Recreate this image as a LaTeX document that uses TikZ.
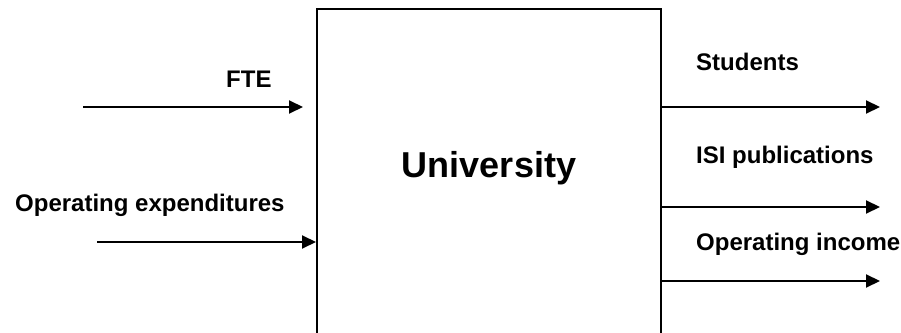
\documentclass[tikz,border=0pt]{standalone}
\usepackage{fontspec}
\setmainfont{Liberation Sans}
\usepackage{xcolor}
\usetikzlibrary{calc,arrows.meta}
\tikzset{
  flow/.style={draw=black, line width=2pt, -{Triangle[length=14pt,width=13pt]}},
  boxnode/.style={draw=black, line width=2pt, minimum width=344pt, minimum height=333pt, inner sep=0pt},
  lab/.style={font=\fontsize{24}{28}\selectfont\bfseries, inner sep=0pt, anchor=base west},
  biglab/.style={font=\fontsize{36}{42}\selectfont\bfseries, inner sep=0pt, anchor=base},
}
\begin{document}
\begin{tikzpicture}[x=1pt,y=1pt]
  \useasboundingbox (0,0) rectangle (901,332);
  \clip (0,0) rectangle (901,332);

  \node[boxnode] (uni) at (489,156.5) {};
  \node[biglab] (unilab) at (489,154) {University};

  % inputs
  \coordinate (fteA) at (83,225);
  \coordinate (fteB) at (303,225);
  \coordinate (expA) at (97,90);
  \draw[flow] (fteA) -- (fteB);
  \draw[flow] (expA) -- (uni.west |- expA);
  \node[lab] (fte) at (226,244) {FTE};
  \node[lab] (exp) at (15,120) {Operating expenditures};

  % outputs
  \coordinate (stuB) at (880,225);
  \coordinate (isiB) at (880,125);
  \coordinate (incB) at (880,51);
  \draw[flow] (uni.east |- stuB) -- (stuB);
  \draw[flow] (uni.east |- isiB) -- (isiB);
  \draw[flow] (uni.east |- incB) -- (incB);
  \node[lab] (stu) at (696,261) {Students};
  \node[lab] (isi) at (696,168) {ISI publications};
  \node[lab] (inc) at (696,82) {Operating income};
\end{tikzpicture}
\end{document}
